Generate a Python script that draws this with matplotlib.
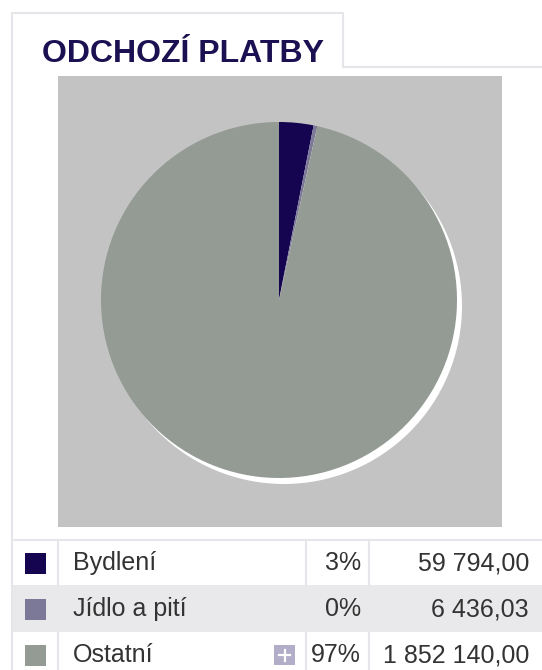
import matplotlib
matplotlib.use("Agg")
import matplotlib.pyplot as plt
from matplotlib.patches import Rectangle, Circle

plt.rcParams['font.family'] = ['Liberation Sans', 'DejaVu Sans']

# ---- data ----
title = "ODCHOZÍ PLATBY"
categories = ["Bydlení", "Jídlo a pití", "Ostatní"]
amounts = [59794.00, 6436.03, 1852140.00]
percent_labels = ["3%", "0%", "97%"]
amount_labels = ["59 794,00", "6 436,03", "1 852 140,00"]
colors = ["#150550", "#7b7898", "#939b94"]

W, H = 542, 670
fig = plt.figure(figsize=(W / 100, H / 100), dpi=100)
fig.patch.set_facecolor("white")

bg = fig.add_axes([0, 0, 1, 1])
bg.set_xlim(0, W)
bg.set_ylim(H, 0)
bg.axis("off")

line_c = "#e6e6ea"
# tab outline
bg.plot([12, 12, 343, 343, W], [H, 13, 13, 67, 67], color=line_c, lw=1.5)
# title
bg.text(42, 54, title, fontsize=23, fontweight="bold", color="#1b1152",
        va="center", ha="left")
# grey panel
bg.add_patch(Rectangle((58, 76), 444, 451, facecolor="#c3c3c3", edgecolor="none"))

# table
row_top = [540, 585, 632]
row_h = [45, 47, 45]
row_bg = ["white", "#e9e9eb", "white"]
bg.plot([12, W], [540, 540], color=line_c, lw=1.5)
for i in range(3):
    y0 = row_top[i]
    h = row_h[i]
    bg.add_patch(Rectangle((13, y0), W - 13, h, facecolor=row_bg[i], edgecolor="none"))
    if row_bg[i] == "white":
        for x in (58, 306, 369):
            bg.plot([x, x], [y0, y0 + h], color=line_c, lw=1.5)
    yc = y0 + h / 2 + 0.5
    bg.add_patch(Rectangle((25, yc - 10.5), 21, 21, facecolor=colors[i], edgecolor="none"))
    bg.text(73, yc, categories[i], fontsize=18, color="#333333", va="center", ha="left")
    bg.text(361, yc, percent_labels[i], fontsize=18, color="#333333", va="center", ha="right")
    bg.text(529, yc, amount_labels[i], fontsize=18, color="#333333", va="center", ha="right")
# plus icon on last row
yc = row_top[2] + row_h[2] / 2 + 0.5
bg.add_patch(Rectangle((274, yc - 10), 21, 20, facecolor="#b2adc9", edgecolor="none"))
bg.plot([279, 290], [yc, yc], color="white", lw=1.6)
bg.plot([284.5, 284.5], [yc - 5.5, yc + 5.5], color="white", lw=1.6)

# pie
cx, cy, r = 279, 300, 178
pie_ax = fig.add_axes([(cx - r) / W, (H - cy - r) / H, 2 * r / W, 2 * r / H])
pie_ax.set_xlim(-1, 1)
pie_ax.set_ylim(-1, 1)
pie_ax.set_aspect("equal")
pie_ax.axis("off")
shadow = Circle((5 / r, -6 / r), 1.0, facecolor="white", edgecolor="none", zorder=0)
shadow.set_clip_on(False)
pie_ax.add_patch(shadow)
wedges, _ = pie_ax.pie(amounts, colors=colors, startangle=90, counterclock=False,
                       radius=1.0, wedgeprops=dict(edgecolor="none", linewidth=0))
for w in wedges:
    w.set_zorder(2)
    w.set_clip_on(False)
pie_ax.set_xlim(-1, 1)
pie_ax.set_ylim(-1, 1)

fig.savefig("out.png", dpi=100, facecolor="white")
